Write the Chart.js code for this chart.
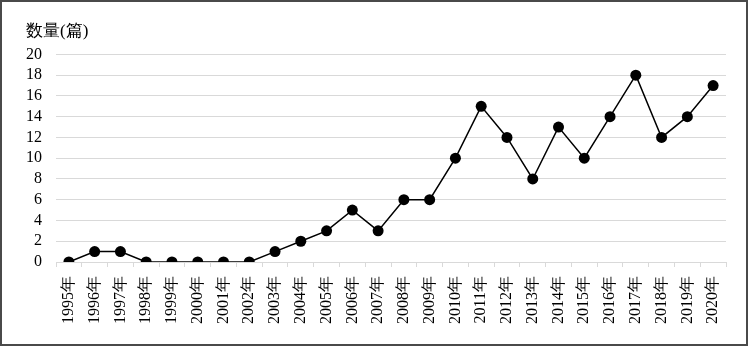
<!DOCTYPE html>
<html>
<head>
<meta charset="utf-8">
<script src="https://cdn.jsdelivr.net/npm/chart.js@4"></script>
<style>
  html, body { margin: 0; padding: 0; background: #fff; }
  #wrap { width: 748px; height: 346px; box-sizing: border-box; border: 2px solid #4a4a4a; }
</style>
</head>
<body>
<div id="wrap"><canvas id="grafico"></canvas></div>
<script>
// Datos
const anios = ['1995年','1996年','1997年','1998年','1999年','2000年','2001年','2002年','2003年',
  '2004年','2005年','2006年','2007年','2008年','2009年','2010年','2011年','2012年','2013年',
  '2014年','2015年','2016年','2017年','2018年','2019年','2020年'];
const cantidad = [0, 1, 1, 0, 0, 0, 0, 0, 1, 2, 3, 5, 3, 6, 6, 10, 15, 12, 8, 13, 10, 14, 18, 12, 14, 17];
const tituloEje = '数量(篇)';

const fuente = "'Liberation Serif', 'Times New Roman', serif";

let ctx = document.getElementById('grafico').getContext('2d');
new Chart(ctx, {
  type: 'line',
  data: {
    labels: anios,
    datasets: [{
      data: cantidad,
      borderColor: '#000',
      backgroundColor: '#000',
      borderWidth: 1.5,
      pointRadius: 5.5,
      pointBackgroundColor: '#000',
      pointBorderWidth: 0,
      tension: 0
    }]
  },
  options: {
    responsive: true,
    maintainAspectRatio: false,
    animation: false,
    layout: { padding: { left: 24, right: 20, top: 19, bottom: 11 } },
    plugins: {
      legend: { display: false },
      tooltip: { enabled: false },
      title: {
        display: true,
        text: tituloEje,
        align: 'start',
        color: '#000',
        font: { family: fuente, size: 17, weight: 'normal' },
        padding: { top: 0, bottom: 13 }
      }
    },
    scales: {
      x: {
        offset: true,
        grid: { offset: true, drawOnChartArea: false, tickLength: 5, color: '#d9d9d9' },
        border: { color: '#d9d9d9' },
        ticks: {
          color: '#000',
          font: { family: fuente, size: 16 },
          minRotation: 90,
          maxRotation: 90,
          autoSkip: false,
          padding: 9
        }
      },
      y: {
        min: 0,
        max: 20,
        grid: { color: '#d9d9d9', drawTicks: false },
        border: { display: false },
        ticks: {
          stepSize: 2,
          autoSkip: false,
          color: '#000',
          font: { family: fuente, size: 16 },
          padding: 14
        },
        // ancho fijo del eje para alinear etiquetas con el título
        afterFit: (escala) => { escala.width = 30; }
      }
    }
  }
});
</script>
</body>
</html>
